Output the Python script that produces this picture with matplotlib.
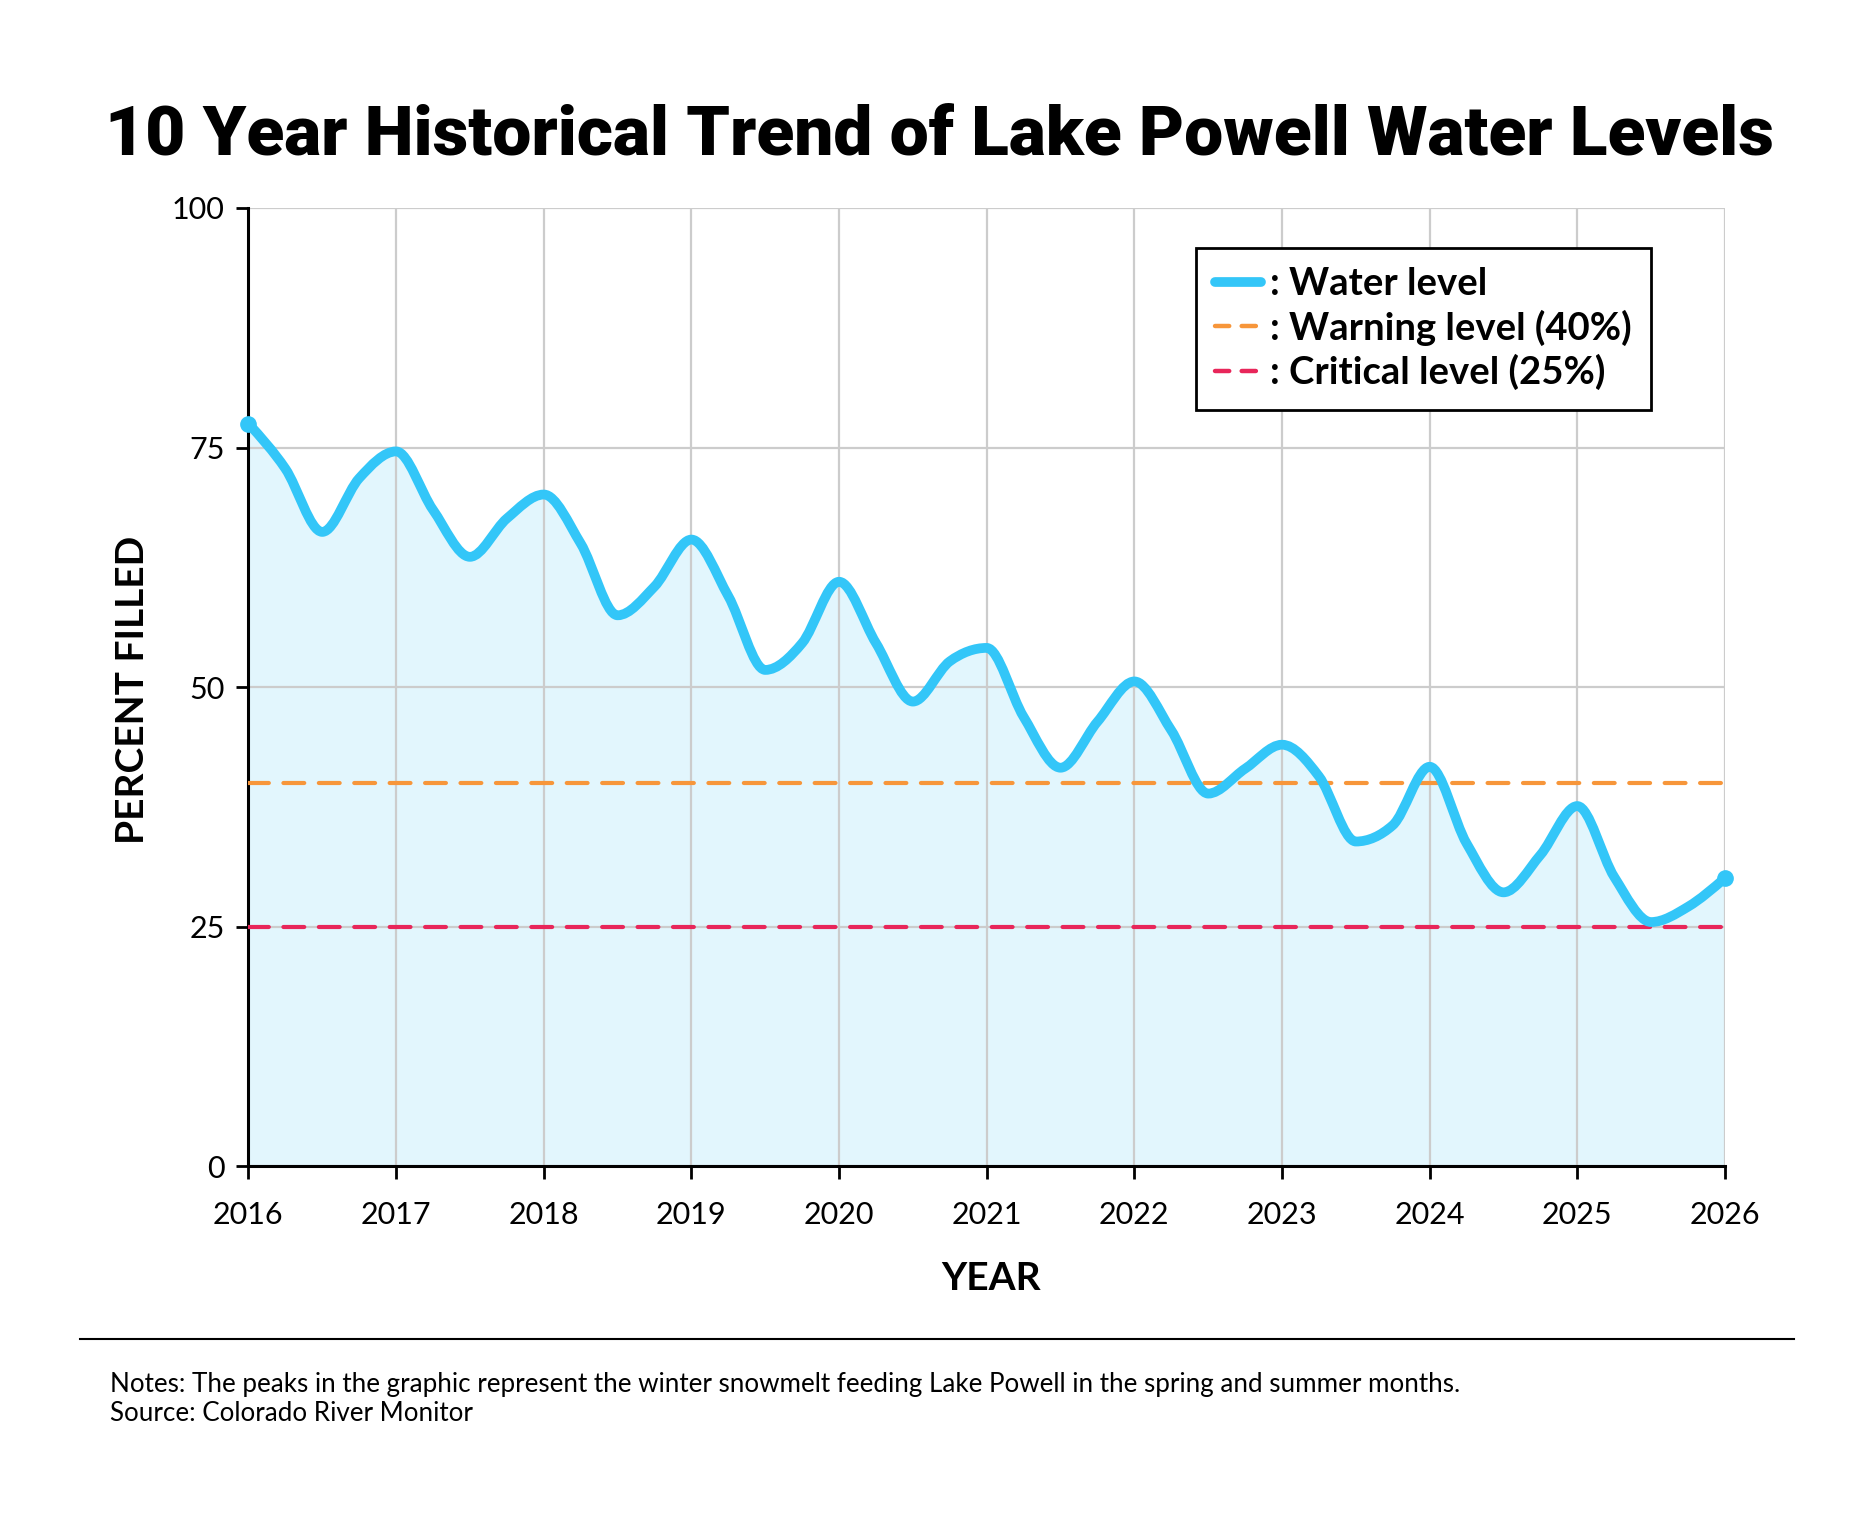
import numpy as np
import matplotlib
matplotlib.use('Agg')
import matplotlib.pyplot as plt
from matplotlib.path import Path
from matplotlib.patches import PathPatch
from matplotlib.lines import Line2D

# Lake Powell percent filled at quarter-year steps
years = [2016.0, 2016.25, 2016.5, 2016.75, 2017.0, 2017.25, 2017.5, 2017.75,
         2018.0, 2018.25, 2018.5, 2018.75, 2019.0, 2019.25, 2019.5, 2019.75,
         2020.0, 2020.25, 2020.5, 2020.75, 2021.0, 2021.25, 2021.5, 2021.75,
         2022.0, 2022.25, 2022.5, 2022.75, 2023.0, 2023.25, 2023.5, 2023.75,
         2024.0, 2024.25, 2024.5, 2024.75, 2025.0, 2025.25, 2025.5, 2025.75,
         2026.0]
levels = [77.5, 72.8, 66.2, 71.8, 74.6, 68.5, 63.6, 67.6,
          70.1, 65.0, 57.5, 60.5, 65.4, 59.5, 51.8, 54.6,
          61.0, 54.6, 48.5, 52.7, 54.1, 46.9, 41.6, 46.4,
          50.6, 45.5, 38.9, 41.5, 44.0, 40.7, 33.9, 35.6,
          41.7, 33.7, 28.6, 32.5, 37.6, 30.2, 25.5, 27.1,
          30.1]
warning_level = 40
critical_level = 25
year_ticks = list(range(2016, 2027))
pct_ticks = [0, 25, 50, 75, 100]

BLUE = '#33C6F8'
FILL = '#E2F6FD'
ORANGE = '#F7963A'
RED = '#E8265A'


def monotone_path(x, y):
    # smooth curve through the points (monotone cubic, bezier segments)
    x = np.asarray(x, float)
    y = np.asarray(y, float)
    h = np.diff(x)
    s = np.diff(y) / h
    t = np.zeros_like(y)
    for i in range(1, len(x) - 1):
        p = (s[i - 1] * h[i] + s[i] * h[i - 1]) / (h[i - 1] + h[i])
        t[i] = (np.sign(s[i - 1]) + np.sign(s[i])) * min(abs(s[i - 1]), abs(s[i]), 0.5 * abs(p))
    t[0] = (3 * s[0] - t[1]) / 2
    t[-1] = (3 * s[-1] - t[-2]) / 2
    verts = [(x[0], y[0])]
    codes = [Path.MOVETO]
    for i in range(len(x) - 1):
        dx = h[i] / 3
        verts += [(x[i] + dx, y[i] + dx * t[i]), (x[i + 1] - dx, y[i + 1] - dx * t[i + 1]), (x[i + 1], y[i + 1])]
        codes += [Path.CURVE4] * 3
    return verts, codes


fig = plt.figure(figsize=(18.75, 15.3), dpi=100)
ax = fig.add_axes([0.1325, 0.2376, 0.7875, 0.6265])

verts, codes = monotone_path(years, levels)

# area under the curve
fill_verts = verts + [(years[-1], 0), (years[0], 0), (years[0], levels[0])]
fill_codes = codes + [Path.LINETO, Path.LINETO, Path.CLOSEPOLY]
ax.add_patch(PathPatch(Path(fill_verts, fill_codes), facecolor=FILL, edgecolor='none', zorder=1))

ax.axhline(warning_level, color=ORANGE, lw=3, dashes=(5, 3.5), dash_capstyle='round', zorder=3)
ax.axhline(critical_level, color=RED, lw=3, dashes=(5, 3.5), dash_capstyle='round', zorder=3)

ax.add_patch(PathPatch(Path(verts, codes), facecolor='none', edgecolor=BLUE, lw=7,
                       capstyle='round', joinstyle='round', zorder=4))
ax.plot([years[0], years[-1]], [levels[0], levels[-1]], 'o', color=BLUE, ms=11, zorder=5, clip_on=False)

ax.set_xlim(2016, 2026)
ax.set_ylim(0, 100)
ax.set_xticks(year_ticks)
ax.set_yticks(pct_ticks)
ax.grid(True, color='#CCCCCC', lw=1.6, zorder=1.5)
for side in ['top', 'right']:
    ax.spines[side].set_visible(False)
for side in ['left', 'bottom']:
    ax.spines[side].set_linewidth(2.2)
ax.tick_params(length=9, width=2, labelsize=22)
ax.tick_params(axis='x', pad=16)
ax.tick_params(axis='y', pad=8)
for lab in ax.get_xticklabels() + ax.get_yticklabels():
    lab.set_family('Lato')

handles = [Line2D([], [], color=BLUE, lw=7, solid_capstyle='round'),
           Line2D([], [], color=ORANGE, lw=3.2, dashes=(3.2, 2.8), dash_capstyle='round'),
           Line2D([], [], color=RED, lw=3.2, dashes=(3.2, 2.8), dash_capstyle='round')]
labels = [': Water level', ': Warning level (40%)', ': Critical level (25%)']
leg = ax.legend(handles, labels, loc='upper left', bbox_to_anchor=(0.642, 0.958),
                prop={'family': 'Lato', 'weight': 'bold', 'size': 27.5},
                frameon=True, fancybox=False, framealpha=1, edgecolor='black',
                handlelength=1.18, handletextpad=0.26, labelspacing=0.22,
                borderpad=0.5, borderaxespad=0)
leg.get_frame().set_linewidth(2)
leg.set_zorder(10)

fig.text(0.501, 0.911, '10 Year Historical Trend of Lake Powell Water Levels',
         ha='center', va='center', fontsize=50, family='Roboto', weight='black')
fig.text(0.0704, 0.549, 'PERCENT FILLED', rotation=90, ha='center', va='center',
         fontsize=28, family='Lato', weight='bold')
fig.text(0.5285, 0.1647, 'YEAR', ha='center', va='center', fontsize=28,
         family='Lato', weight='bold')

fig.add_artist(Line2D([0.0427, 0.957], [0.1247, 0.1247], color='black', lw=1.5))
fig.text(0.0587, 0.0952, 'Notes: The peaks in the graphic represent the winter snowmelt '
         'feeding Lake Powell in the spring and summer months.',
         ha='left', va='center', fontsize=18.7, family='Lato')
fig.text(0.0587, 0.0763, 'Source: Colorado River Monitor', ha='left', va='center',
         fontsize=18.7, family='Lato')

plt.savefig('out.png', dpi=100, facecolor='white')
